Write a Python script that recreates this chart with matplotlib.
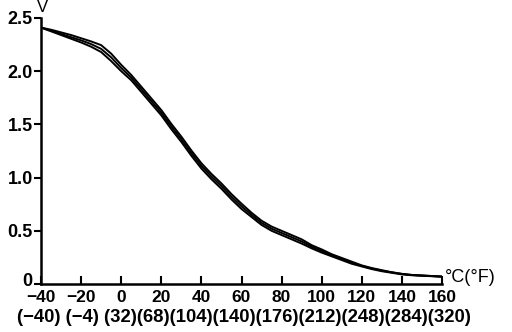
import matplotlib
matplotlib.use("Agg")
import matplotlib.pyplot as plt
from matplotlib.transforms import ScaledTranslation
import numpy as np

temps_c = [-40, -35, -30, -25, -20, -15, -10, -5, 0, 5, 10, 15, 20, 25, 30, 35, 40, 45, 50, 55,
           60, 65, 70, 75, 80, 85, 90, 95, 100, 105, 110, 115, 120, 125, 130, 135, 140, 145, 150, 155, 160]

volts_upper = [2.41, 2.39, 2.365, 2.34, 2.31, 2.28, 2.245, 2.165, 2.06, 1.965,
               1.855, 1.745, 1.635, 1.505, 1.385, 1.255, 1.135, 1.035, 0.945, 0.845,
               0.755, 0.67, 0.595, 0.54, 0.5, 0.46, 0.42, 0.365, 0.325, 0.28,
               0.245, 0.21, 0.175, 0.15, 0.13, 0.11, 0.095, 0.085, 0.08, 0.075, 0.07]
volts_mid = [2.41, 2.38, 2.35, 2.32, 2.29, 2.255, 2.21, 2.13, 2.03, 1.94,
             1.83, 1.72, 1.61, 1.48, 1.36, 1.23, 1.11, 1.01, 0.92, 0.82,
             0.73, 0.65, 0.575, 0.52, 0.48, 0.44, 0.40, 0.35, 0.31, 0.27,
             0.235, 0.20, 0.17, 0.145, 0.125, 0.11, 0.095, 0.085, 0.08, 0.075, 0.07]
volts_lower = [2.41, 2.375, 2.34, 2.305, 2.27, 2.23, 2.18, 2.095, 2.0, 1.915,
               1.805, 1.695, 1.585, 1.455, 1.335, 1.205, 1.085, 0.985, 0.895, 0.795,
               0.705, 0.63, 0.555, 0.5, 0.46, 0.42, 0.38, 0.335, 0.295, 0.26,
               0.225, 0.19, 0.165, 0.14, 0.12, 0.105, 0.09, 0.082, 0.077, 0.073, 0.068]

x_ticks = [-40, -20, 0, 20, 40, 60, 80, 100, 120, 140, 160]
x_tick_labels = ["−40", "−20", "0", "20", "40", "60", "80", "100", "120", "140", "160"]
f_labels = ["(−40)", "(−4)", "(32)", "(68)", "(104)", "(140)", "(176)", "(212)", "(248)", "(284)", "(320)"]
y_ticks = [0, 0.5, 1.0, 1.5, 2.0, 2.5]
y_tick_labels = ["0", "0.5", "1.0", "1.5", "2.0", "2.5"]

plt.rcParams['font.family'] = ['Liberation Sans', 'DejaVu Sans']

fig = plt.figure(figsize=(5.12, 3.32), dpi=100)
ax = fig.add_axes([41/512, 1-284/332, 401/512, 266/332])

for v in (volts_upper, volts_mid, volts_lower):
    ax.plot(temps_c, v, color='black', lw=1.4, solid_capstyle='butt')

ax.set_xlim(-40, 160)
ax.set_ylim(0, 2.5)
for s in ('top', 'right'):
    ax.spines[s].set_visible(False)
for s in ('left', 'bottom'):
    ax.spines[s].set_linewidth(1.8)

ax.set_xticks(x_ticks)
ax.set_xticklabels(x_tick_labels, fontsize=12.5, fontweight='bold')
ax.set_yticks(y_ticks)
ax.set_yticklabels(y_tick_labels, fontsize=13, fontweight='bold')
ax.tick_params(axis='x', direction='in', length=6, width=1.5, pad=4)
ax.tick_params(axis='y', direction='out', length=5, width=1.5, pad=1)

zero_lab = ax.get_yticklabels()[0]
zero_lab.set_transform(zero_lab.get_transform() + ScaledTranslation(0, 3/72, fig.dpi_scale_trans))

fig.text(17/512, 1-318/332, " ".join(f_labels[:2]) + " " + "".join(f_labels[2:]),
         fontsize=13.3, fontweight='bold', ha='left', va='center')
fig.text(445/512, 1-277/332, "°C(°F)", fontsize=13, ha='left', va='center')
fig.text(42/512, 1-8/332, "V", fontsize=12, ha='center', va='center')

fig.savefig("out.png", dpi=100, facecolor='white')
